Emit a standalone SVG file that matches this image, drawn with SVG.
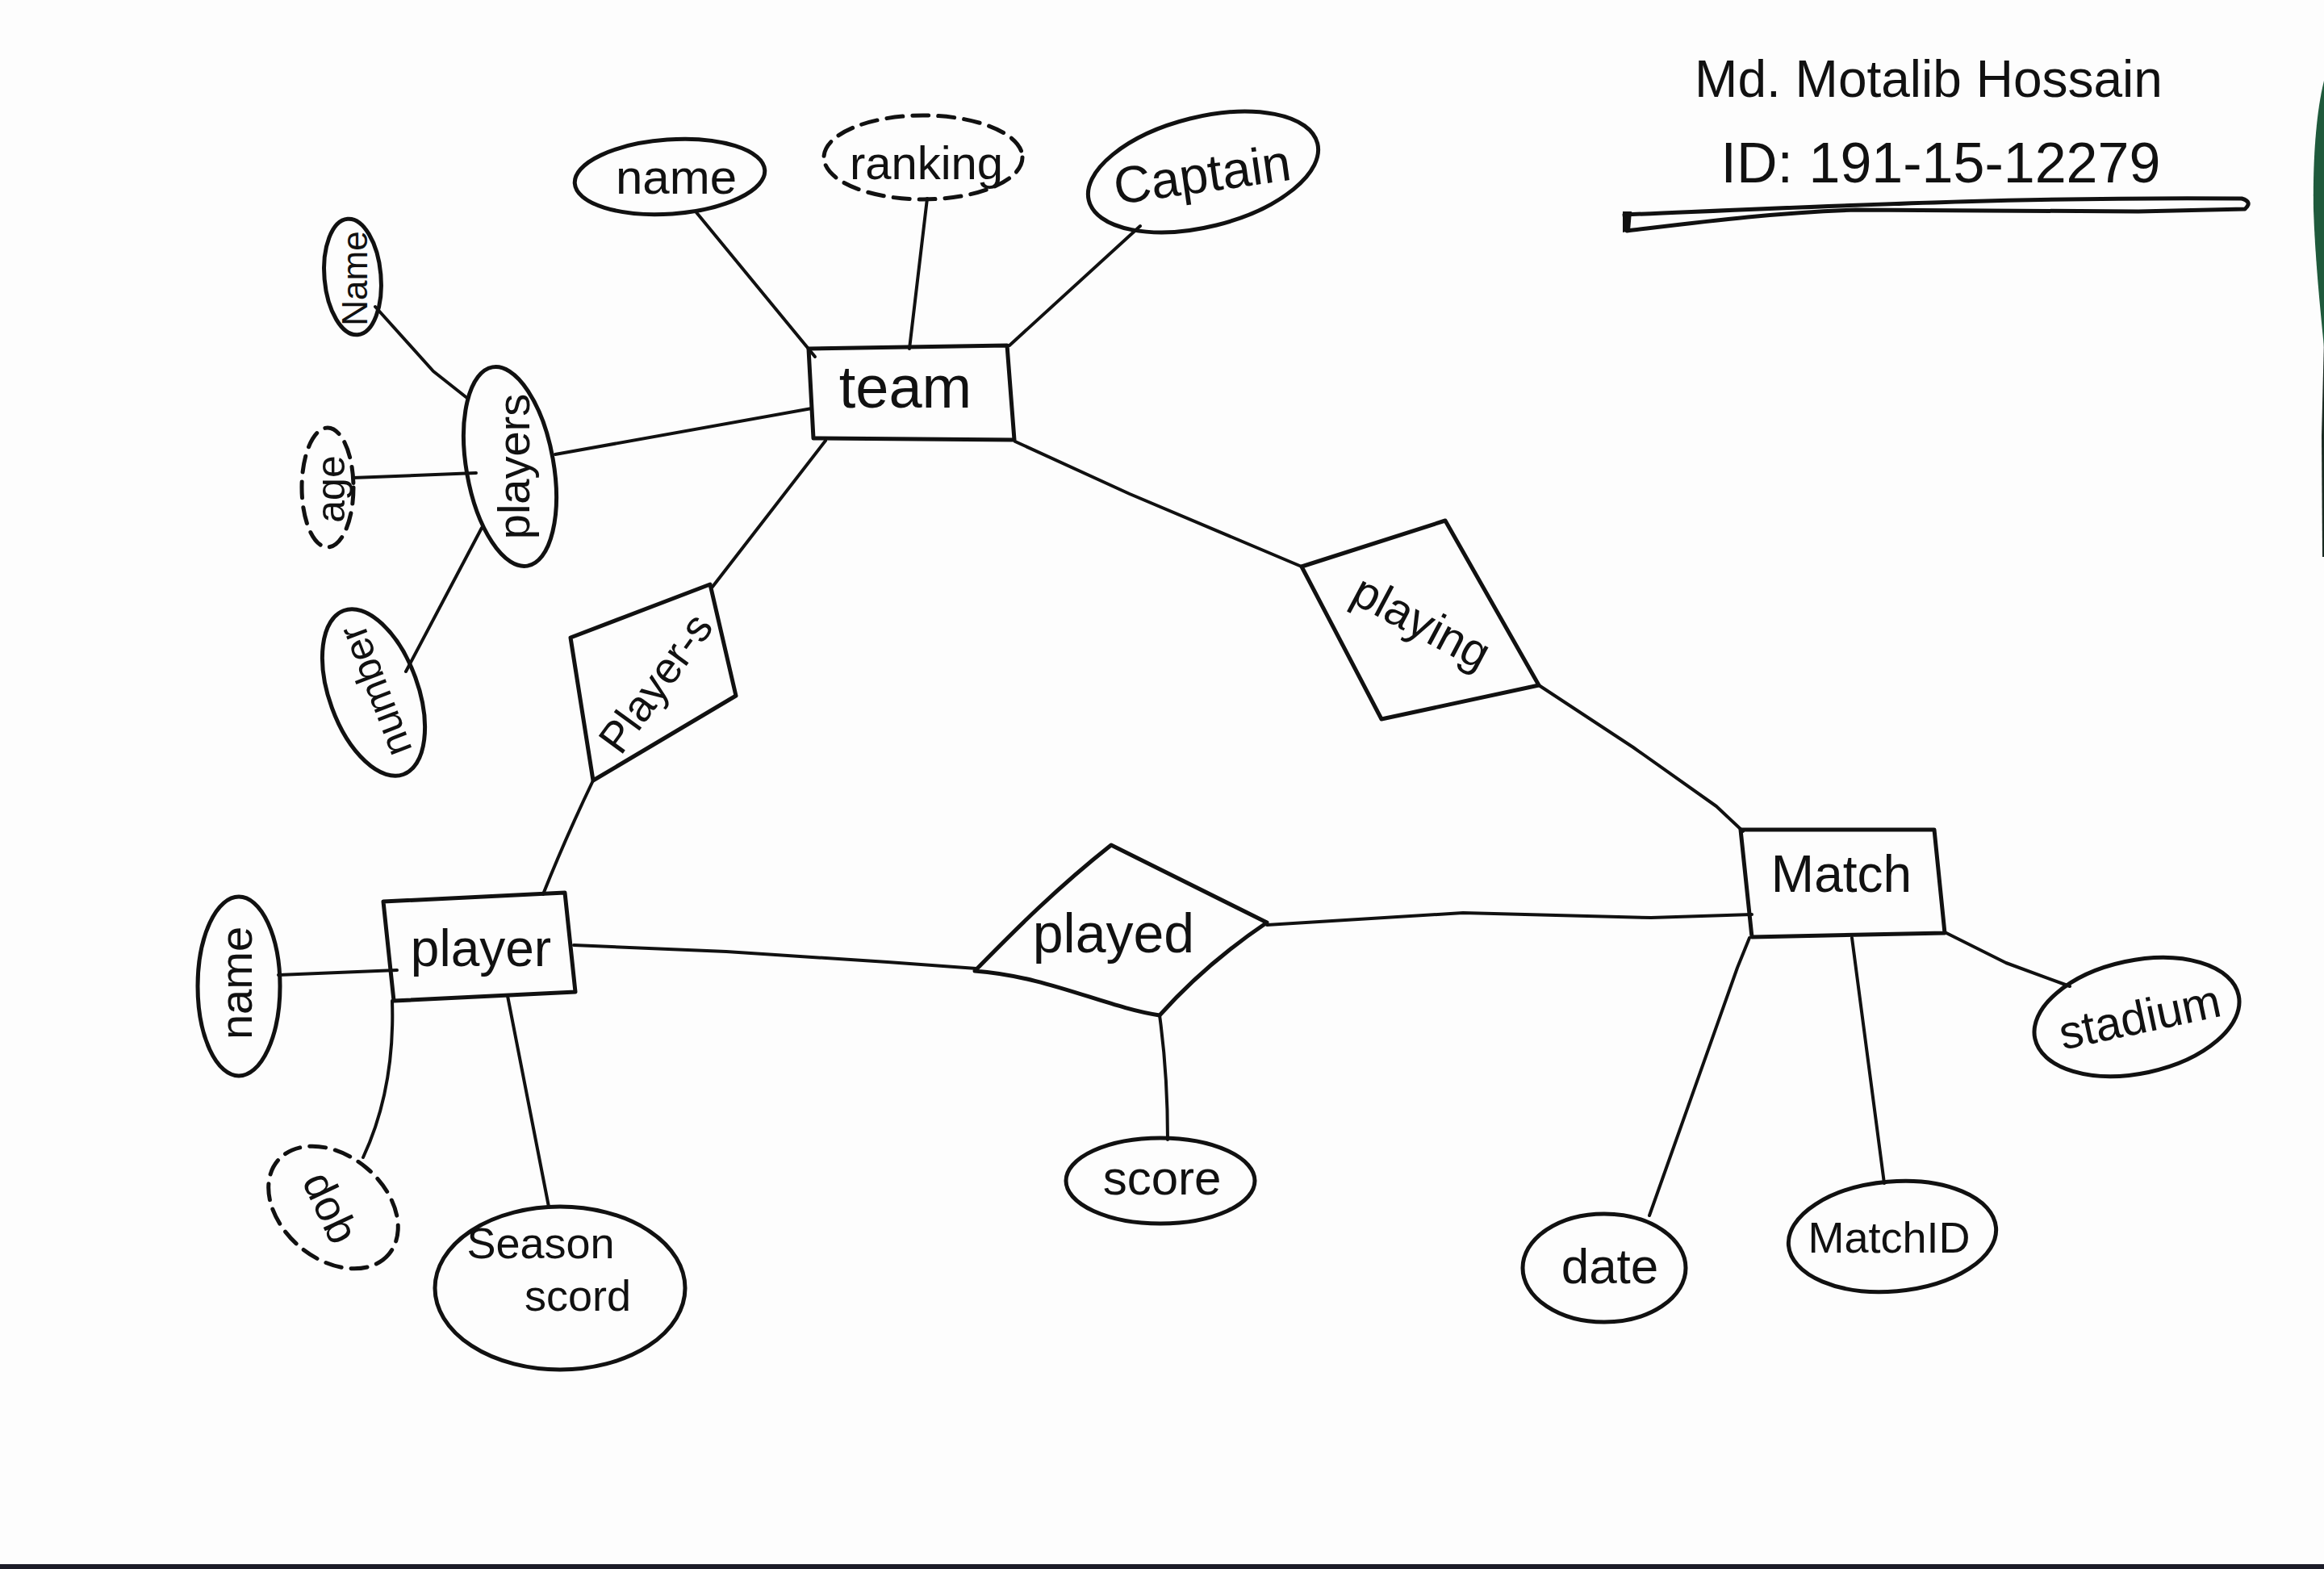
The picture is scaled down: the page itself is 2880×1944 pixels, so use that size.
<svg xmlns="http://www.w3.org/2000/svg" width="2880" height="1944" viewBox="0 0 2880 1944">
<defs>
<style>
.s{fill:none;stroke:#111;stroke-width:5;stroke-linejoin:round;stroke-linecap:round}
.d{stroke-dasharray:20 12}
.c{fill:none;stroke:#111;stroke-width:4;stroke-linecap:round;stroke-linejoin:round}
.t{font-family:"Liberation Sans",Arial,sans-serif;fill:#111;text-anchor:middle}
.m{dominant-baseline:central}
</style>
</defs>
<rect width="2880" height="1944" fill="#fdfdfd"/>
<path d="M2880,100 C2870,140 2866,200 2867,260 C2869,320 2875,380 2880,430 Z" fill="#1f5a3c"/>
<path d="M2880,420 L2877,540 L2878,690 L2880,690 Z" fill="#1a2a22"/>
<rect x="0" y="1938" width="2880" height="6" fill="#1c1c28"/>

<g id="connectors">
<path class="c" d="M862,262 L1010,442"/>
<path class="c" d="M1149,246 L1127,432"/>
<path class="c" d="M1413,280 L1251,428"/>
<path class="c" d="M688,563 L1006,506"/>
<path class="c" d="M883,727 L1023,546"/>
<path class="c" d="M1258,547 L1400,612 L1613,702"/>
<path class="c" d="M465,380 L537,460 L580,494"/>
<path class="c" d="M437,592 L590,586"/>
<path class="c" d="M503,832 L597,654"/>
<path class="c" d="M735,967 Q700,1040 673,1108"/>
<path class="c" d="M345,1208 L492,1202"/>
<path class="c" d="M486,1240 C488,1300 480,1370 450,1434"/>
<path class="c" d="M629,1234 L680,1495"/>
<path class="c" d="M711,1171 L900,1179 L1100,1192 L1210,1200"/>
<path class="c" d="M1437,1258 Q1447,1330 1447,1412"/>
<path class="c" d="M1570,1146 L1813,1131 L2046,1137 L2171,1133"/>
<path class="c" d="M1907,849 L2024,926 L2127,999 L2160,1030"/>
<path class="c" d="M2168,1162 L2153,1199 L2044,1506"/>
<path class="c" d="M2295,1162 L2335,1466"/>
<path class="c" d="M2410,1155 L2486,1193 L2565,1222"/>
</g>

<g id="header">
<text class="t" x="2390" y="120" font-size="64">Md. Motalib Hossain</text>
<text class="t" x="2405" y="226" font-size="70">ID: 191-15-12279</text>
<path class="s" d="M2013,266 C2300,254 2500,244 2778,246 Q2792,250 2782,259 L2650,262 L2300,260 C2200,263 2100,276 2016,286 Z"/>
<path d="M2011,262 L2022,262 L2020,286 L2011,288 Z" fill="#111"/>
</g>

<g id="team">
<path class="s" d="M1002,432 L1248,428 L1257,545 L1008,543 Z"/>
<text class="t" x="1122" y="505" font-size="74">team</text>
</g>
<g id="team-name">
<ellipse class="s" cx="830" cy="219" rx="118" ry="46" transform="rotate(-4 830 219)"/>
<text class="t" x="838" y="240" font-size="60">name</text>
</g>
<g id="team-ranking">
<ellipse class="s d" cx="1144" cy="195" rx="123" ry="52"/>
<text class="t" x="1148" y="222" font-size="58">ranking</text>
</g>
<g id="team-captain">
<ellipse class="s" cx="1491" cy="213" rx="146" ry="68" transform="rotate(-14 1491 213)"/>
<text class="t" x="1491" y="238" font-size="64" transform="rotate(-8 1491 225)">Captain</text>
</g>

<g id="players">
<ellipse class="s" cx="632" cy="578" rx="54" ry="125" transform="rotate(-10 632 578)"/>
<text class="t m" font-size="56" transform="translate(636,578) rotate(-90)">players</text>
</g>
<g id="players-name">
<ellipse class="s" cx="437" cy="343" rx="35" ry="72" transform="rotate(-5 437 343)"/>
<text class="t m" font-size="44" transform="translate(439,345) rotate(-90)">Name</text>
</g>
<g id="players-age">
<ellipse class="s d" cx="406" cy="604" rx="32" ry="74"/>
<text class="t m" font-size="50" transform="translate(410,606) rotate(-90)">age</text>
</g>
<g id="players-number">
<ellipse class="s" cx="463" cy="858" rx="55" ry="108" transform="rotate(-20 463 858)"/>
<text class="t m" font-size="50" transform="translate(465,856) rotate(-111)">number</text>
</g>

<g id="player_s">
<path class="s" d="M707,790 L880,724 L912,862 L735,967 Z"/>
<text class="t m" font-size="54" transform="translate(812,846) rotate(-54)">Player-s</text>
</g>

<g id="player">
<path class="s" d="M475,1117 L700,1106 L713,1229 L488,1240 Z"/>
<text class="t" x="596" y="1197" font-size="64">player</text>
</g>
<g id="player-name">
<ellipse class="s" cx="296" cy="1222" rx="51" ry="111"/>
<text class="t m" font-size="56" transform="translate(292,1218) rotate(-90)">name</text>
</g>
<g id="player-dob">
<ellipse class="s d" cx="413" cy="1496" rx="90" ry="64" transform="rotate(40 413 1496)"/>
<text class="t m" font-size="54" transform="translate(410,1496) rotate(65)">dob</text>
</g>
<g id="player-season-score">
<ellipse class="s" cx="694" cy="1596" rx="155" ry="101"/>
<text class="t" x="670" y="1559" font-size="54">Season</text>
<text class="t" x="716" y="1624" font-size="54">scord</text>
</g>

<g id="played">
<path class="s" d="M1208,1203 C1260,1150 1310,1100 1377,1047 L1570,1143 C1530,1170 1480,1210 1437,1258 C1370,1248 1300,1210 1208,1203 Z"/>
<text class="t" x="1380" y="1180" font-size="68">played</text>
</g>
<g id="played-score">
<ellipse class="s" cx="1438" cy="1463" rx="117" ry="53"/>
<text class="t" x="1440" y="1480" font-size="60">score</text>
</g>

<g id="playing">
<path class="s" d="M1613,702 L1791,645 L1907,849 L1712,891 Z"/>
<text class="t m" font-size="58" transform="translate(1762,770) rotate(28)">playing</text>
</g>

<g id="match">
<path class="s" d="M2157,1028 L2397,1028 L2410,1156 L2171,1161 Z"/>
<text class="t" x="2282" y="1105" font-size="64">Match</text>
</g>
<g id="match-date">
<ellipse class="s" cx="1988" cy="1571" rx="101" ry="67"/>
<text class="t" x="1995" y="1590" font-size="62">date</text>
</g>
<g id="match-matchid">
<ellipse class="s" cx="2345" cy="1532" rx="129" ry="68" transform="rotate(-5 2345 1532)"/>
<text class="t" x="2341" y="1552" font-size="54">MatchID</text>
</g>
<g id="match-stadium">
<ellipse class="s" cx="2648" cy="1260" rx="129" ry="70" transform="rotate(-12 2648 1260)"/>
<text class="t" x="2652" y="1280" font-size="58" transform="rotate(-12 2652 1262)">stadium</text>
</g>
</svg>
